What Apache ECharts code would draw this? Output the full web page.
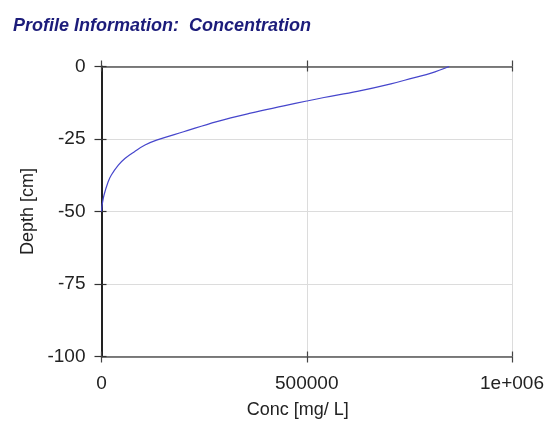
<!DOCTYPE html>
<html>
<head>
<meta charset="utf-8">
<script src="https://cdn.jsdelivr.net/npm/echarts@6/dist/echarts.min.js"></script>
<style>
  html, body { margin: 0; padding: 0; background: #fff; }
  #chart { width: 544px; height: 424px; }
</style>
</head>
<body>
<div id="chart"></div>
<script>
// values
const concValues = [847000, 803000, 760000, 705000, 623000, 542000, 500000, 444000, 363000, 281000, 200000, 134000, 106000, 81000, 57000, 41000, 24000, 16000, 6000, 1500, 0]
const depthValues = [0, -2.3, -3.9, -6.0, -8.6, -10.7, -11.9, -13.6, -16.1, -19.0, -22.5, -25.4, -27.1, -29.3, -31.7, -34, -37.4, -39.8, -44.4, -47.8, -50]
const xTickLabels = { 0: '0', 500000: '500000', 1000000: '1e+006' }

const chart = echarts.init(document.getElementById('chart'))

const xBase = { type: 'value', min: 0, max: 1000000, interval: 500000 }
const yBase = { type: 'value', min: -100, max: 0, interval: 25 }
const noLine = { show: false }

const option = {
  animation: false,
  title: {
    text: 'Profile Information:  Concentration',
    left: 8,
    top: 12,
    textStyle: {
      fontFamily: 'Liberation Sans, Arial, sans-serif',
      fontSize: 18,
      fontWeight: 'bold',
      fontStyle: 'italic',
      color: '#1c1c7a'
    }
  },
  grid: { left: 101.5, right: 32, top: 66.5, bottom: 67.5, outerBoundsMode: 'none', containLabel: false },
  xAxis: [
    {
      ...xBase,
      position: 'bottom',
      name: 'Conc [mg/ L]',
      nameLocation: 'middle',
      nameGap: 45,
      nameTextStyle: { fontFamily: 'Liberation Sans, Arial', fontSize: 18, color: '#222', padding: [0, 18, 0, 0] },
      axisLine: { show: true, onZero: false, lineStyle: { color: '#555', width: 1.5 } },
      axisTick: { show: true, inside: false, length: 6, lineStyle: { color: '#444', width: 1.2 } },
      axisLabel: {
        margin: 18,
        fontFamily: 'Liberation Sans, Arial',
        fontSize: 19,
        color: '#222',
        formatter: v => xTickLabels[v]
      },
      splitLine: { show: true, lineStyle: { color: '#dcdcdc', width: 1 } }
    },
    {
      ...xBase,
      position: 'bottom',
      axisLine: { show: false, onZero: false },
      axisLabel: noLine,
      splitLine: noLine,
      axisTick: { show: true, inside: true, length: 5, lineStyle: { color: '#444', width: 1.2 } }
    },
    {
      ...xBase,
      position: 'top',
      axisLine: { show: true, onZero: false, lineStyle: { color: '#555', width: 1.5 } },
      axisLabel: noLine,
      splitLine: noLine,
      axisTick: { show: true, inside: false, length: 6, lineStyle: { color: '#444', width: 1.2 } }
    },
    {
      ...xBase,
      position: 'top',
      axisLine: { show: false, onZero: false },
      axisLabel: noLine,
      splitLine: noLine,
      axisTick: { show: true, inside: true, length: 5, lineStyle: { color: '#444', width: 1.2 } }
    }
  ],
  yAxis: [
    {
      ...yBase,
      position: 'left',
      name: 'Depth [cm]',
      nameLocation: 'middle',
      nameGap: 63,
      nameTextStyle: { fontFamily: 'Liberation Sans, Arial', fontSize: 18, color: '#222' },
      axisLine: { show: true, onZero: false, lineStyle: { color: '#222', width: 2 } },
      axisTick: { show: true, inside: false, length: 7, lineStyle: { color: '#333', width: 1.2 } },
      axisLabel: {
        margin: 16,
        fontFamily: 'Liberation Sans, Arial',
        fontSize: 19,
        color: '#222'
      },
      splitLine: { show: true, lineStyle: { color: '#dcdcdc', width: 1 } }
    },
    {
      ...yBase,
      position: 'left',
      axisLine: { show: false, onZero: false },
      axisLabel: noLine,
      splitLine: noLine,
      axisTick: { show: true, inside: true, length: 5, lineStyle: { color: '#333', width: 1.2 } }
    }
  ],
  series: [
    {
      type: 'line',
      xAxisIndex: 0,
      yAxisIndex: 0,
      data: concValues.map((c, i) => [c, depthValues[i]]),
      smooth: 0.4,
      showSymbol: false,
      lineStyle: { color: '#4646cc', width: 1.2 },
      z: 1
    }
  ]
}

chart.setOption(option)
</script>
</body>
</html>
